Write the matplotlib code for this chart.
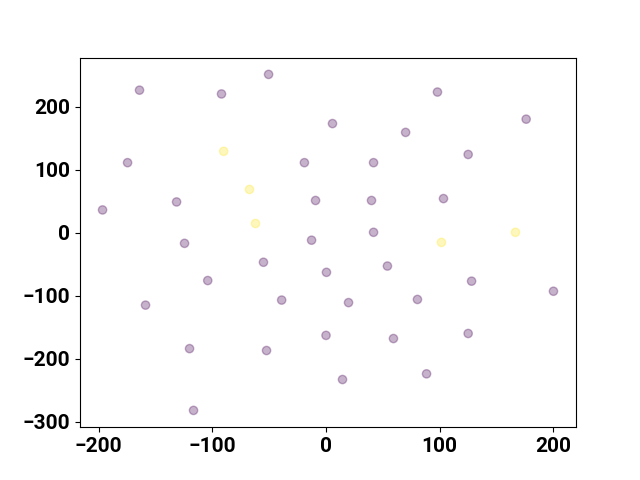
import matplotlib
matplotlib.use('Agg')
import matplotlib.pyplot as plt
import numpy as np

plt.rcParams['font.family'] = ['Roboto', 'DejaVu Sans']
plt.rcParams['font.weight'] = 'bold'
plt.rcParams['font.size'] = 15

# Point coordinates
x_vals = [-196.5, -174.5, -164, -158.7, -131.4, -124.4, -120, -116.5, -104, -91.9,
          -90, -67.3, -62, -55, -52.3, -50.5, -39, -19, -12.7, -9.2,
          0.4, 0, 5.7, 14.5, 19.8, 40, 41.8, 41.8, 54, 59.3,
          70, 80.4, 88.4, 98, 101.5, 103.3, 125, 125, 128, 166.6,
          176, 200]
y_vals = [36, 111, 226, -115, 48.7, -17, -184, -282, -76, 220,
          129, 68.5, 14.5, -47, -187, 251, -107, 111, -12, 51,
          -63, -163, 173, -233, -111, 51, 111, 0.5, -53, -168,
          159, -106, -224, 223, -15.5, 54, 124, -160, -77, 0.5,
          180, -93]
labels = [0, 0, 0, 0, 0, 0, 0, 0, 0, 0,
          1, 1, 1, 0, 0, 0, 0, 0, 0, 0,
          0, 0, 0, 0, 0, 0, 0, 0, 0, 0,
          0, 0, 0, 0, 1, 0, 0, 0, 0, 1,
          0, 0]

fig, ax = plt.subplots(figsize=(6.4, 4.8), dpi=100)
ax.scatter(x_vals, y_vals, c=labels, cmap='viridis', alpha=0.3)

fig.savefig('out.png', dpi=100)
